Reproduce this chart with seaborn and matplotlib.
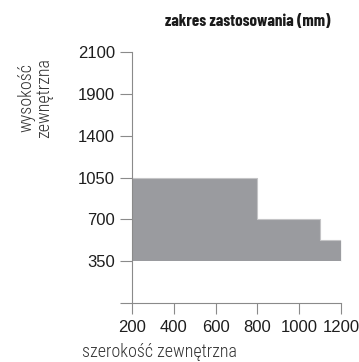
import numpy as np
import matplotlib
matplotlib.use("Agg")
import matplotlib.pyplot as plt
import seaborn as sns

# Application range: outer width (mm) step edges and outer height (mm) per step
width_edges = [200, 800, 1100, 1200]
height_steps = [1050, 700, 525]
height_base = 350

x_ticks = [200, 400, 600, 800, 1000, 1200]
y_ticks = [0, 350, 700, 1050, 1400, 1900, 2100]
y_tick_labels = ["", "350", "700", "1050", "1400", "1900", "2100"]

title = "zakres zastosowania (mm)"
x_label = "szerokość zewnętrzna"
y_label = "wysokość\nzewnętrzna"

sns.set_style("ticks")
plt.rcParams["font.family"] = ["Liberation Sans", "DejaVu Sans"]
COND = ["Roboto Condensed", "Archivo Narrow", "DejaVu Sans"]
TITLE_FONT = ["Barlow Condensed", "Roboto Condensed", "DejaVu Sans"]

W, H = 359, 362
fig = plt.figure(figsize=(W / 100, H / 100), dpi=100)
ax = fig.add_axes([132 / W, 1 - 303 / H, (341 - 132) / W, (303 - 52) / H])

# evenly spaced height ticks: piecewise-linear scale between the tick values
pos = np.arange(len(y_ticks), dtype=float)
ax.set_yscale("function", functions=(lambda v: np.interp(v, y_ticks, pos),
                                     lambda p: np.interp(p, pos, y_ticks)))

xs = width_edges
ys = height_steps + [height_steps[-1]]
ax.fill_between(xs, height_base, ys, step="post", color="#9a9b9f", linewidth=0)
sns.lineplot(x=xs, y=ys, drawstyle="steps-post", color="#c4c4c6", linewidth=0.8, ax=ax)
sns.lineplot(x=[xs[-1], xs[-1]], y=[height_base, ys[-1]], color="#c4c4c6", linewidth=0.8, ax=ax)

ax.set_xlim(200, 1200)
ax.set_ylim(0, 2100)
ax.set_xticks(x_ticks)
ax.set_xticklabels([str(t) for t in x_ticks])
ax.set_yticks(y_ticks)
ax.set_yticklabels(y_tick_labels)
ax.minorticks_off()

for side in ("top", "right"):
    ax.spines[side].set_visible(False)
for side in ("left", "bottom"):
    ax.spines[side].set_color("#8a8a8a")
    ax.spines[side].set_linewidth(0.8)

ax.tick_params(axis="both", which="major", direction="out", color="#8a8a8a",
               width=0.8, labelsize=12, labelcolor="#1e1e1e")
ax.tick_params(axis="y", length=8.6, pad=3.5)
ax.tick_params(axis="x", length=8, pad=4)
ax.set_xlabel("")
ax.set_ylabel("")

fig.text(248 / W, 1 - 22 / H, title, ha="center", va="center",
         fontsize=12.2, fontweight="bold", family=TITLE_FONT, color="#1a1a1a")
fig.text(160 / W, 1 - 352 / H, x_label, ha="center", va="center",
         fontsize=13, fontweight="light", family=COND, color="#333333")
fig.text(35 / W, 1 - 98 / H, y_label, ha="center", va="center", rotation=90,
         multialignment="center", fontsize=13, fontweight="light", family=COND,
         color="#333333", linespacing=1.0)

fig.savefig("out.png", dpi=100)
